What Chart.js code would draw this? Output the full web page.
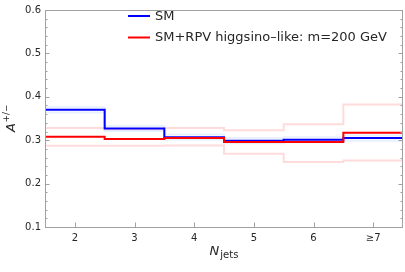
<!DOCTYPE html>
<html>
<head>
<meta charset="utf-8">
<script src="https://cdn.jsdelivr.net/npm/chart.js@4.4.1/dist/chart.umd.min.js"></script>
<style>
html,body{margin:0;padding:0;background:#fff;}
#wrap{width:405px;height:272px;position:relative;}
</style>
</head>
<body>
<div id="wrap"><canvas id="c" width="405" height="272"></canvas></div>
<script>
const categories = ['2', '3', '4', '5', '6', '≥7'];
const firstCategoryValue = 2;
const smValues  = [0.370, 0.327, 0.307, 0.299, 0.301, 0.305];
const smUpper   = [0.376, 0.333, 0.313, 0.305, 0.307, 0.311];
const smLower   = [0.364, 0.321, 0.301, 0.293, 0.295, 0.299];
const rpvValues = [0.308, 0.303, 0.305, 0.296, 0.296, 0.317];
const rpvUpper  = [0.328, 0.325, 0.328, 0.323, 0.337, 0.382];
const rpvLower  = [0.287, 0.287, 0.288, 0.269, 0.250, 0.253];
const yTicks = [0.1, 0.2, 0.3, 0.4, 0.5, 0.6];
const legendLabels = ['SM', 'SM+RPV higgsino\u2013like: m=200 GeV'];

function steps(vals) {
  const pts = vals.map((v, i) => ({ x: firstCategoryValue + i - 0.5, y: v }));
  pts.push({ x: firstCategoryValue + vals.length - 0.5, y: vals[vals.length - 1] });
  return pts;
}
const FONT = "'DejaVu Sans', sans-serif";
const axisColor = '#a0a0a0';
const textColor = '#262626';

const framePlugin = {
  id: 'frame',
  afterDraw(chart) {
    const ctx = chart.ctx, a = chart.chartArea;
    const xs = chart.scales.x, ys = chart.scales.y;
    ctx.save();
    ctx.strokeStyle = axisColor;
    ctx.lineWidth = 1;
    ctx.strokeRect(Math.round(a.left) + 0.5, Math.round(a.top) + 0.5, Math.round(a.right - a.left) - 1, Math.round(a.bottom - a.top));
    for (let k = 0; k <= 25; k++) {
      const v = ys.min + k * 0.02;
      const y = Math.round(ys.getPixelForValue(v)) + 0.5;
      const major = (k % 5 === 0);
      const len = major ? 4.5 : 2.5;
      ctx.beginPath();
      ctx.moveTo(a.left, y); ctx.lineTo(a.left + len, y);
      ctx.moveTo(a.right, y); ctx.lineTo(a.right - len, y);
      ctx.stroke();
    }
    categories.forEach((c, i) => {
      const x = Math.round(xs.getPixelForValue(firstCategoryValue + i)) + 0.5;
      ctx.beginPath();
      ctx.moveTo(x, a.bottom); ctx.lineTo(x, a.bottom - 4.5);
      ctx.stroke();
    });
    ctx.fillStyle = textColor;
    ctx.textBaseline = 'alphabetic';
    ctx.font = "italic 13px " + FONT;
    const nW = ctx.measureText('N').width;
    ctx.font = "10px " + FONT;
    const jW = ctx.measureText('jets').width;
    const cx = (a.left + a.right) / 2;
    const x0 = cx - (nW + jW + 1) / 2;
    ctx.font = "italic 13px " + FONT;
    ctx.textAlign = 'left';
    ctx.fillText('N', x0, 255);
    ctx.font = "10px " + FONT;
    ctx.fillText('jets', x0 + nW + 1, 258);
    ctx.save();
    ctx.translate(15, (a.top + a.bottom) / 2);
    ctx.rotate(-Math.PI / 2);
    ctx.font = "italic 13px " + FONT;
    const aW = ctx.measureText('A').width;
    ctx.font = "9px " + FONT;
    const sW = ctx.measureText('+/\u2212').width;
    const sx = -(aW + sW) / 2;
    ctx.font = "italic 13px " + FONT;
    ctx.fillText('A', sx, 0);
    ctx.font = "9px " + FONT;
    ctx.fillText('+/\u2212', sx + aW + 0.5, -6);
    ctx.restore();
    const cols = ['#0000ff', '#ff0000'];
    ctx.font = "13px " + FONT;
    ctx.textBaseline = 'middle';
    legendLabels.forEach((t, i) => {
      const y = 16 + i * 21.5;
      ctx.strokeStyle = cols[i];
      ctx.lineWidth = 2;
      ctx.beginPath();
      ctx.moveTo(128, y); ctx.lineTo(150, y);
      ctx.stroke();
      ctx.fillText(t, 155, y + 0.5);
    });
    ctx.restore();
  }
};

const ds = (data, color, width, order) => ({
  data: steps(data), borderColor: color, borderWidth: width, stepped: 'before',
  pointRadius: 0, fill: false, order: order, tension: 0
});

new Chart(document.getElementById('c'), {
  type: 'line',
  data: {
    datasets: [
      ds(rpvValues, '#ff0000', 2, 0),
      ds(smValues, '#0000ff', 2, 1),
      ds(smUpper, 'rgba(120,170,255,0.16)', 2, 2),
      ds(smLower, 'rgba(120,170,255,0.16)', 2, 2),
      ds(rpvUpper, 'rgba(255,120,120,0.26)', 2, 3),
      ds(rpvLower, 'rgba(255,120,120,0.26)', 2, 3)
    ]
  },
  options: {
    responsive: false,
    animation: false,
    devicePixelRatio: 1,
    layout: { padding: { top: 5, right: 2, left: 0, bottom: 0 } },
    plugins: { legend: { display: false }, tooltip: { enabled: false } },
    scales: {
      x: {
        type: 'linear', min: firstCategoryValue - 0.5, max: firstCategoryValue + categories.length - 0.5,
        afterBuildTicks: (s) => { s.ticks = categories.map((c, i) => ({ value: firstCategoryValue + i })); },
        afterFit: (s) => { s.height = 45; },
        grid: { display: false, drawTicks: false },
        border: { display: false },
        ticks: {
          padding: 5, color: textColor, font: { family: FONT, size: 10 }, maxRotation: 0, autoSkip: false,
          callback: (v) => categories[Math.round(v) - firstCategoryValue]
        }
      },
      y: {
        min: 0.1, max: 0.6,
        afterBuildTicks: (s) => { s.ticks = yTicks.map(v => ({ value: v })); },
        afterFit: (s) => { s.width = 45; },
        grid: { display: false, drawTicks: false },
        border: { display: false },
        ticks: { padding: 4, color: textColor, font: { family: FONT, size: 10 }, callback: (v) => v.toFixed(1) }
      }
    }
  },
  plugins: [framePlugin]
});
</script>
</body>
</html>
